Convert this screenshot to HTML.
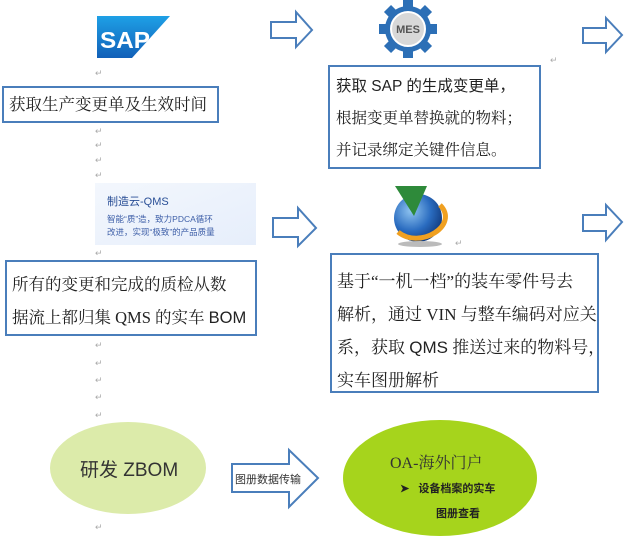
<!DOCTYPE html>
<html><head><meta charset="utf-8"><style>
body{margin:0;width:627px;height:537px;background:#fff;position:relative;overflow:hidden;font-family:"Liberation Serif","Noto Serif CJK SC",serif;}
.a{position:absolute}
.box{position:absolute;border:2px solid #4a7ebb;background:#fff;box-sizing:border-box;color:#222}
.pm{position:absolute;color:#aaa;font-size:9px;font-family:"Liberation Sans",sans-serif}
</style></head><body>
<svg class="a" style="left:0;top:0" width="627" height="537">
<defs>
<linearGradient id="sg" x1="0" y1="0" x2="0" y2="1"><stop offset="0" stop-color="#1ea0e6"/><stop offset="1" stop-color="#1260b8"/></linearGradient>
<radialGradient id="gb" cx="0.35" cy="0.35" r="0.7"><stop offset="0" stop-color="#8fc4f0"/><stop offset="0.6" stop-color="#2a6cc0"/><stop offset="1" stop-color="#123c80"/></radialGradient>
<linearGradient id="qc" x1="0" y1="0" x2="1" y2="1"><stop offset="0" stop-color="#f3f7fd"/><stop offset="1" stop-color="#e6eefb"/></linearGradient>
</defs>
<!-- SAP -->
<polygon points="97,16 170,16 132,58 97,58" fill="url(#sg)"/>
<text x="100" y="48" font-family="Liberation Sans" font-weight="bold" font-size="23" textLength="50" lengthAdjust="spacingAndGlyphs" fill="#fff">SAP</text>
<!-- hollow arrows -->
<g fill="#fff" stroke="#4a7ebb" stroke-width="2">
<polygon points="271,22 296,22 296,12 312,30 296,47 296,38 271,38"/>
<polygon points="583,28 606,28 606,18 622,35 606,52 606,43 583,43"/>
<polygon points="273,218 298,218 298,208 316,228 298,246 298,237 273,237"/>
<polygon points="583,215 606,215 606,205 622,222 606,240 606,231 583,231"/>
<path d="M232,464 H289 V450 L318,478 L289,507 V492 H232 Z"/>
</g>
<text x="235" y="483" font-size="11" font-family="Liberation Sans,Noto Sans CJK SC" fill="#333">图册数据传输</text>
<!-- MES gear -->
<g transform="translate(408,29)">
<circle r="23" fill="#2c6fb6"/>
<g fill="#2c6fb6"><rect x="-5" y="-29" width="10" height="58"/><rect x="-29" y="-5" width="58" height="10"/>
<rect x="-5" y="-29" width="10" height="58" transform="rotate(45)"/><rect x="-5" y="-29" width="10" height="58" transform="rotate(-45)"/></g>
<circle r="17" fill="#d8d8d8" stroke="#fff" stroke-width="2"/>
<text x="0" y="4" text-anchor="middle" font-family="Liberation Sans" font-weight="bold" font-size="11" fill="#555">MES</text>
</g>
<!-- QMS card -->
<rect x="95" y="183" width="161" height="62" fill="url(#qc)"/>
<text x="107" y="205" font-size="11" font-family="Liberation Sans,Noto Sans CJK SC" fill="#2a4f96">制造云-QMS</text>
<text x="107" y="222" font-size="8.5" font-family="Liberation Sans,Noto Sans CJK SC" fill="#3e5fa8">智能“质”造，致力PDCA循环</text>
<text x="107" y="235" font-size="8.5" font-family="Liberation Sans,Noto Sans CJK SC" fill="#3e5fa8">改进，实现“极致”的产品质量</text>
<!-- globe -->
<circle cx="418" cy="218" r="24" fill="url(#gb)"/>
<path d="M398,232 C420,250 460,225 440,205" stroke="#f0a020" stroke-width="5" fill="none"/>
<polygon points="395,186 427,186 414,216" fill="#2e8a3a"/>
<ellipse cx="420" cy="244" rx="22" ry="3" fill="#bbb"/>
<!-- ellipses -->
<ellipse cx="128" cy="468" rx="78" ry="46" fill="#dcebaa"/>
<ellipse cx="440" cy="478" rx="97" ry="58" fill="#a6d41c"/>
</svg>
<div class="box" style="left:2px;top:86px;width:217px;height:37px;font-size:16.5px;line-height:33px;padding-left:5px;white-space:nowrap">获取生产变更单及生效时间</div>
<div class="box" style="left:328px;top:65px;width:213px;height:104px;font-size:15.5px;line-height:32px;padding:4px 0 0 6px;white-space:nowrap"><span style="font-family:Liberation Sans,Noto Sans CJK SC">获取 SAP 的生成变更单，</span><br>根据变更单替换就的物料；<br>并记录绑定关键件信息。</div>
<div class="box" style="left:5px;top:260px;width:252px;height:76px;font-size:16.5px;line-height:33px;padding:6px 0 0 5px;white-space:nowrap">所有的变更和完成的质检从数<br>据流上都归集 QMS 的实车 <span style="font-family:Liberation Sans">BOM</span></div>
<div class="box" style="left:330px;top:253px;width:269px;height:140px;font-size:17px;line-height:33px;padding:10px 0 0 5px;white-space:nowrap">基于“一机一档”的装车零件号去<br>解析，通过 VIN 与整车编码对应关<br>系，获取 <span style="font-family:Liberation Sans">QMS</span> 推送过来的物料号，<br>实车图册解析</div>
<div class="a" style="left:80px;top:455px;font-size:19px;color:#333;font-family:'Liberation Sans','Noto Sans CJK SC',sans-serif">研发 ZBOM</div>
<div class="a" style="left:390px;top:450px;font-size:16px;color:#333">OA-海外门户</div>
<div class="a" style="left:400px;top:480px;font-size:11px;font-weight:bold;color:#222;font-family:'Liberation Sans','Noto Sans CJK SC',sans-serif">➤ &nbsp; 设备档案的实车</div>
<div class="a" style="left:436px;top:505px;font-size:11px;font-weight:bold;color:#222;font-family:'Liberation Sans','Noto Sans CJK SC',sans-serif">图册查看</div>
<div class="pm" style="left:95px;top:68px">↵</div>
<div class="pm" style="left:95px;top:126px">↵</div>
<div class="pm" style="left:95px;top:140px">↵</div>
<div class="pm" style="left:95px;top:155px">↵</div>
<div class="pm" style="left:95px;top:170px">↵</div>
<div class="pm" style="left:95px;top:248px">↵</div>
<div class="pm" style="left:95px;top:340px">↵</div>
<div class="pm" style="left:95px;top:358px">↵</div>
<div class="pm" style="left:95px;top:375px">↵</div>
<div class="pm" style="left:95px;top:392px">↵</div>
<div class="pm" style="left:95px;top:410px">↵</div>
<div class="pm" style="left:95px;top:522px">↵</div>
<div class="pm" style="left:550px;top:55px">↵</div>
<div class="pm" style="left:455px;top:238px">↵</div>
</body></html>
